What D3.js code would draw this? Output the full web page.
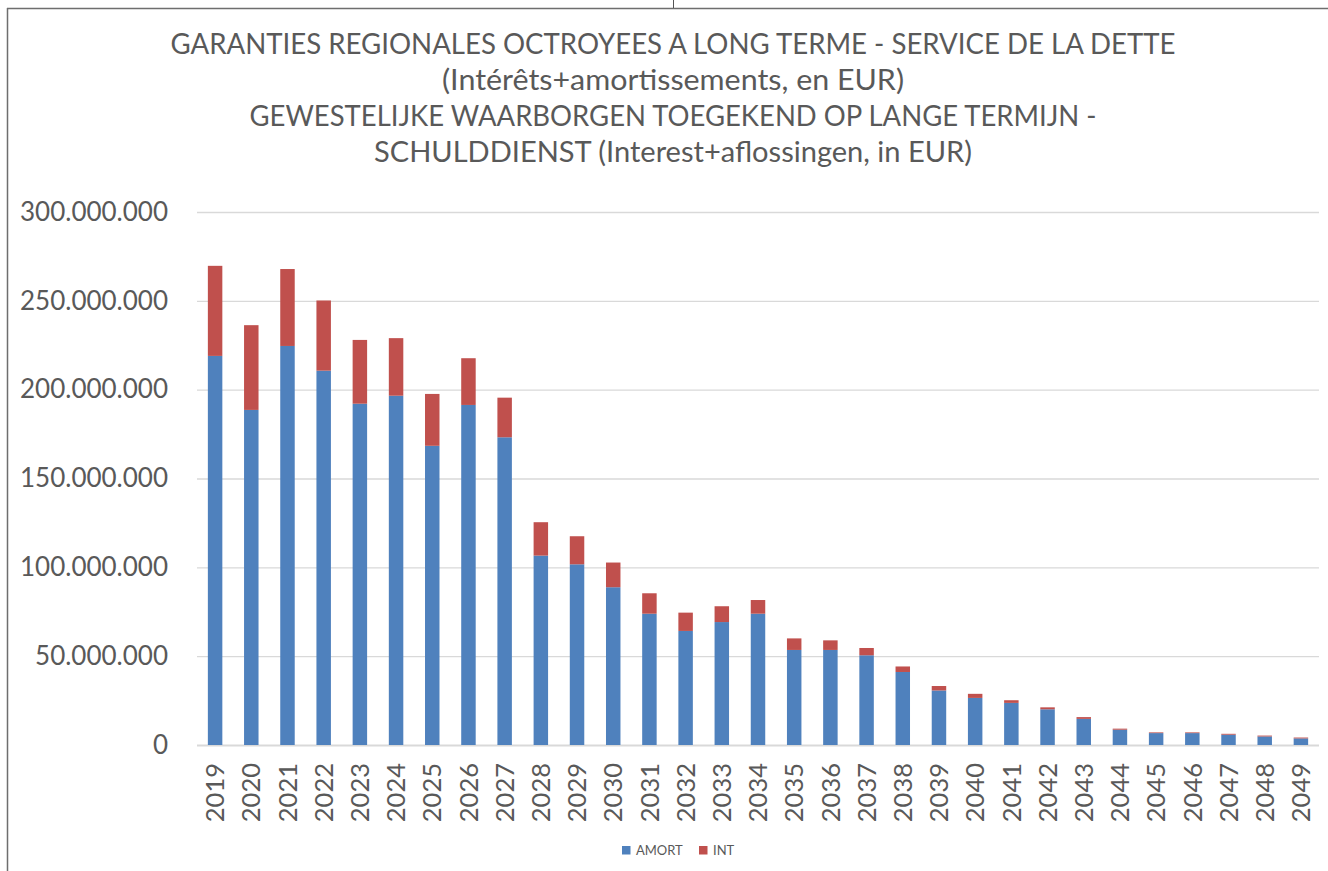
<!DOCTYPE html>
<html>
<head>
<meta charset="utf-8">
<script src="https://cdn.jsdelivr.net/npm/d3@7"></script>
<style>
  html, body { margin: 0; padding: 0; background: #fff; }
  svg { display: block; font-family: Lato, "Open Sans", sans-serif; }
</style>
</head>
<body>
<svg id="chart" width="1328" height="871"></svg>
<script>
// years on the x axis
const years = ['2019', '2020', '2021', '2022', '2023', '2024', '2025', '2026', '2027', '2028',
  '2029', '2030', '2031', '2032', '2033', '2034', '2035', '2036', '2037', '2038',
  '2039', '2040', '2041', '2042', '2043', '2044', '2045', '2046', '2047', '2048', '2049'];

// amortissements / aflossingen (EUR)
const amort = [219000000, 188600000, 224600000, 210700000, 192100000, 196600000, 168400000, 191400000, 173200000, 106600000,
  101700000, 88800000, 73900000, 64200000, 69200000, 73900000, 53500000, 53500000, 50500000, 41100000,
  30700000, 26500000, 23700000, 20100000, 14700000, 8600000, 6700000, 6700000, 5800000, 4800000, 3700000];

// intérêts / interest (EUR)
const int = [50700000, 47700000, 43300000, 39500000, 35900000, 32400000, 29200000, 26300000, 22300000, 18800000,
  15800000, 13900000, 11500000, 10300000, 8900000, 7700000, 6500000, 5400000, 4100000, 3100000,
  2500000, 2300000, 1500000, 1100000, 1000000, 600000, 400000, 400000, 500000, 500000, 500000];

const yTicks = [0, 50000000, 100000000, 150000000, 200000000, 250000000, 300000000];

const titleLines = [
  'GARANTIES REGIONALES OCTROYEES A LONG TERME - SERVICE DE LA DETTE',
  '(Intérêts+amortissements, en EUR)',
  'GEWESTELIJKE WAARBORGEN TOEGEKEND OP LANGE TERMIJN -',
  'SCHULDDIENST (Interest+aflossingen, in EUR)'
];

const seriesNames = ['AMORT', 'INT'];
const colors = { AMORT: '#4F81BD', INT: '#C0504D' };

const svg = d3.select('#chart');
const plot = { left: 197, right: 1319, top: 212, bottom: 745 };

// outer frame of the pasted chart
svg.append('line').attr('x1', 7).attr('x2', 1328).attr('y1', 8.5).attr('y2', 8.5)
  .attr('stroke', '#6e6e6e').attr('stroke-width', 1.5);
svg.append('line').attr('x1', 7.5).attr('x2', 7.5).attr('y1', 8).attr('y2', 871)
  .attr('stroke', '#6e6e6e').attr('stroke-width', 1.5);
svg.append('line').attr('x1', 673.5).attr('x2', 673.5).attr('y1', 0).attr('y2', 8)
  .attr('stroke', '#555').attr('stroke-width', 1);

const table = years.map((y, i) => ({ year: y, AMORT: amort[i], INT: int[i] }));
const stacked = d3.stack().keys(seriesNames)(table);

const x = d3.scaleBand()
  .domain(years)
  .range([plot.left, plot.right])
  .paddingInner(0.6)
  .paddingOuter(0.3);

const y = d3.scaleLinear()
  .domain([0, 300000000])
  .range([plot.bottom, plot.top]);

const locale = d3.formatLocale({ decimal: ',', thousands: '.', grouping: [3], currency: ['', ' €'] });
const fmt = locale.format(',.0f');

// gridlines + y labels
const yAxis = svg.append('g')
  .attr('class', 'y-axis')
  .attr('transform', `translate(${plot.left},0)`)
  .call(d3.axisLeft(y).tickValues(yTicks).tickFormat(fmt).tickSize(-(plot.right - plot.left)).tickPadding(29));
yAxis.select('.domain').remove();
yAxis.selectAll('.tick line')
  .attr('stroke', '#d9d9d9')
  .attr('stroke-width', d => d === 0 ? 2 : 1.3);
yAxis.selectAll('.tick text')
  .attr('fill', '#595959')
  .style('font-size', '26px')
  .style('font-family', 'Lato, sans-serif');

// bars
const groups = svg.append('g').selectAll('g.series')
  .data(stacked)
  .enter().append('g')
  .attr('class', 'series')
  .attr('fill', d => colors[d.key]);

groups.selectAll('rect')
  .data(d => d)
  .enter().append('rect')
  .attr('x', d => x(d.data.year))
  .attr('width', x.bandwidth())
  .attr('y', d => y(d[1]))
  .attr('height', d => y(d[0]) - y(d[1]));

// x axis labels (rotated)
const xAxis = svg.append('g')
  .attr('class', 'x-axis')
  .attr('transform', `translate(0,${plot.bottom})`)
  .call(d3.axisBottom(x).tickSize(0).tickPadding(0));
xAxis.select('.domain').remove();
xAxis.selectAll('.tick text')
  .attr('transform', 'rotate(-90)')
  .attr('x', -18)
  .attr('y', 0)
  .attr('dy', '0.36em')
  .attr('text-anchor', 'end')
  .attr('fill', '#595959')
  .style('font-size', '25.5px')
  .style('font-family', 'Lato, sans-serif');

// title, each line stretched to the width it has in the original
const titleBase = [54, 90, 126, 162];
const titleWidth = [1005, 462, 847, 598];
svg.append('g').attr('class', 'title')
  .selectAll('text')
  .data(titleLines)
  .enter().append('text')
  .attr('x', 673)
  .attr('y', (d, i) => titleBase[i])
  .attr('text-anchor', 'middle')
  .attr('textLength', (d, i) => titleWidth[i])
  .attr('lengthAdjust', 'spacingAndGlyphs')
  .attr('fill', '#595959')
  .style('font-size', '28px')
  .text(d => d);

// legend
const legend = svg.append('g').attr('class', 'legend');
const legendX = [622, 699];
const item = legend.selectAll('g')
  .data(seriesNames)
  .enter().append('g')
  .attr('transform', (d, i) => `translate(${legendX[i]},846)`);
item.append('rect')
  .attr('width', 8.5).attr('height', 8.5)
  .attr('fill', d => colors[d]);
item.append('text')
  .attr('x', 14).attr('y', 9)
  .attr('fill', '#595959')
  .style('font-size', '13px')
  .text(d => d);
</script>
</body>
</html>
